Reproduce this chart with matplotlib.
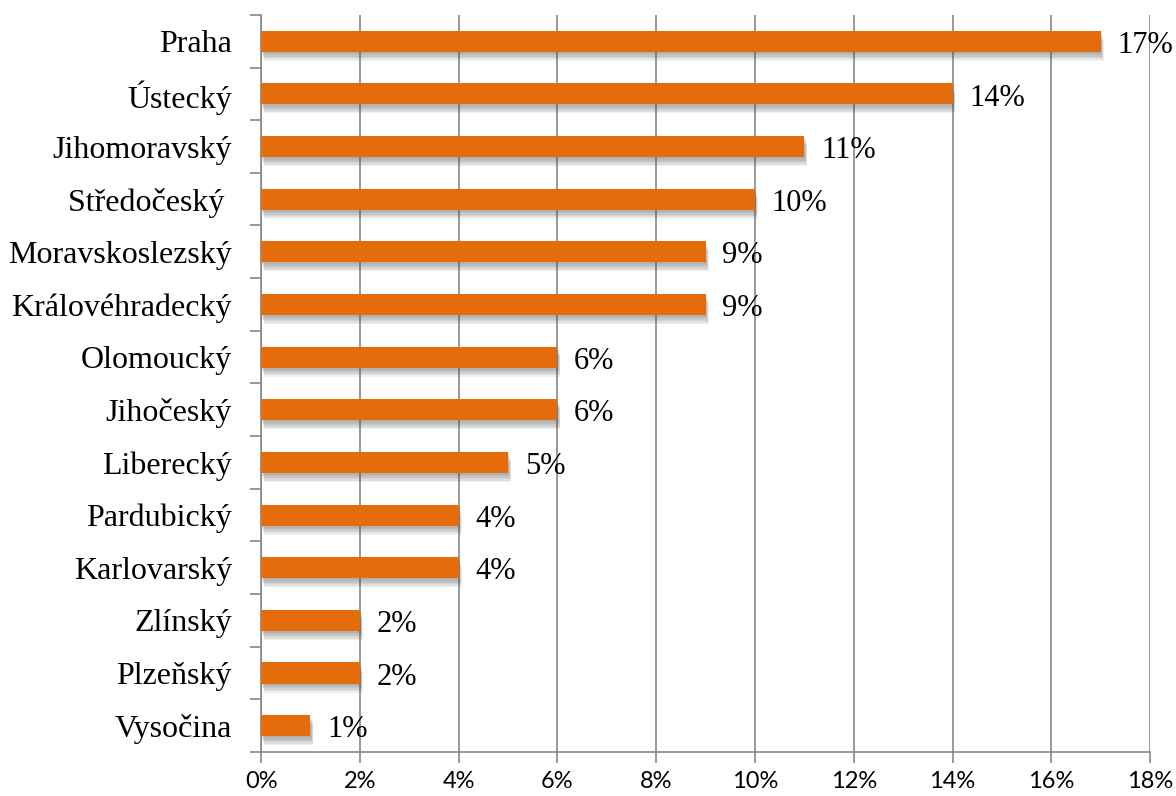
import numpy as np
import matplotlib
matplotlib.use('Agg')
import matplotlib.pyplot as plt
import matplotlib.patheffects as pe
from matplotlib.ticker import FixedLocator, PercentFormatter

# Data
regions = ['Praha', 'Ústecký', 'Jihomoravský', 'Středočeský ', 'Moravskoslezský',
           'Královéhradecký', 'Olomoucký', 'Jihočeský', 'Liberecký', 'Pardubický',
           'Karlovarský', 'Zlínský', 'Plzeňský', 'Vysočina']
shares = [17, 14, 11, 10, 9, 9, 6, 6, 5, 4, 4, 2, 2, 1]
xticks = [0, 2, 4, 6, 8, 10, 12, 14, 16, 18]

bar_color = '#E46C0A'
grid_color = '#878787'

fig = plt.figure(figsize=(11.76, 7.96), dpi=100)
ax = fig.add_axes([0.222, 0.0553, 0.756, 0.926])

ypos = np.arange(len(regions))
bars = ax.barh(ypos, shares, height=0.4, color=bar_color, zorder=3)

# Soft drop shadow (a few stacked offsets to fake the blur)
shadow = [pe.SimplePatchShadow(offset=(0.6 + k * 0.3, -1.5 - k * 1.0), shadow_rgbFace='#505050', alpha=0.09)
          for k in range(6)]
for b in bars:
    b.set_path_effects(shadow + [pe.Normal()])

for y, v in zip(ypos, shares):
    ax.annotate(f'{v}%', (v, y), xytext=(12, -3), textcoords='offset points',
                va='center', ha='left', fontsize=22, family='Liberation Serif', zorder=4)

ax.set_xlim(0, 18)
ax.set_ylim(len(regions) - 0.5, -0.5)
ax.xaxis.set_major_locator(FixedLocator(xticks))
ax.xaxis.set_major_formatter(PercentFormatter(decimals=0))
ax.set_yticks(ypos)
ax.set_yticklabels(regions, family='Liberation Serif', fontsize=23)
ax.set_yticks(np.arange(len(regions) + 1) - 0.5, minor=True)
ax.tick_params(axis='y', which='major', length=0, pad=21)
ax.tick_params(axis='y', which='minor', length=8, color=grid_color, width=1.2)
ax.tick_params(axis='x', which='major', length=8, color=grid_color, width=1.2, pad=6, labelsize=17)
for lab in ax.get_xticklabels():
    lab.set_family('Lato')

ax.grid(axis='x', color=grid_color, linewidth=1.2, zorder=0)
ax.set_axisbelow(True)
for s in ['top', 'right']:
    ax.spines[s].set_visible(False)
for s in ['left', 'bottom']:
    ax.spines[s].set_color(grid_color)
    ax.spines[s].set_linewidth(1.2)

fig.savefig('out.png', dpi=100)
